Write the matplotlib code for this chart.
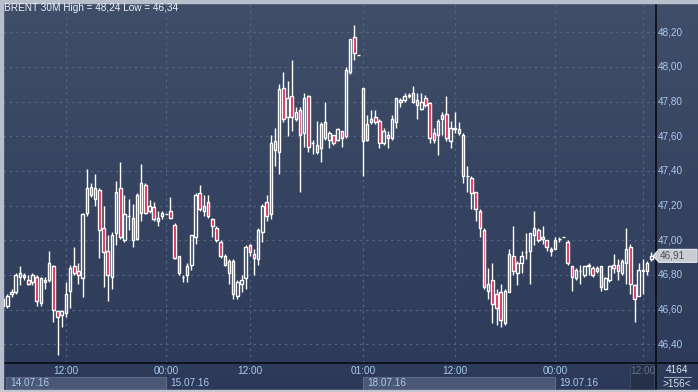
import matplotlib
matplotlib.use('Agg')
import matplotlib.pyplot as plt
import numpy as np
from matplotlib.patches import Rectangle, Polygon
from matplotlib.lines import Line2D

# ---------------- data ----------------
opens = [46.62, 46.62, 46.69, 46.70, 46.79, 46.79, 46.77, 46.76, 46.79, 46.64,
         46.76, 46.77, 46.85, 46.59, 46.57, 46.58, 46.71, 46.85, 46.82, 46.78,
         47.16, 47.31, 47.24, 47.29, 47.07, 46.94, 46.79, 47.04, 47.30, 47.00,
         47.14, 47.13, 47.01, 47.16, 47.32, 47.17, 47.19, 47.11, 47.14, 47.15,
         47.17, 47.09, 46.91, 46.79, 46.80, 46.86, 47.02, 47.27, 47.17, 47.22,
         47.12, 47.07, 46.99, 46.91, 46.81, 46.88, 46.68, 46.75, 46.78, 46.97,
         46.92, 46.89, 47.05, 47.22, 47.15, 47.57, 47.51, 47.88, 47.71, 47.83,
         47.70, 47.75, 47.62, 47.83, 47.56, 47.55, 47.53, 47.68, 47.58, 47.61,
         47.58, 47.63, 47.60, 47.97, 48.17, 48.07, 47.88, 47.58, 47.68, 47.71,
         47.69, 47.56, 47.61, 47.59, 47.68, 47.81, 47.81, 47.84, 47.85, 47.81,
         47.76, 47.82, 47.79, 47.62, 47.61, 47.70, 47.73, 47.57, 47.64, 47.64,
         47.61, 47.37, 47.36, 47.28, 47.17, 47.06, 46.71, 46.77, 46.69, 46.70,
         46.52, 46.70, 46.91, 46.81, 46.87, 46.93, 46.94, 47.03, 47.06, 47.02,
         47.00, 46.95, 46.95, 47.01, 47.02, 46.99, 46.85, 46.78, 46.82, 46.80,
         46.86, 46.84, 46.82, 46.85, 46.72, 46.77, 46.86, 46.86, 46.81, 46.87,
         46.96, 46.74, 46.68, 46.82, 46.82, 46.89]
highs = [46.67, 46.69, 46.72, 46.81, 46.85, 46.81, 46.80, 46.81, 46.80, 46.79,
         46.79, 46.94, 46.86, 46.60, 46.60, 46.76, 46.86, 46.96, 46.87, 47.16,
         47.41, 47.33, 47.38, 47.30, 47.20, 47.03, 47.05, 47.34, 47.45, 47.26,
         47.24, 47.21, 47.27, 47.44, 47.33, 47.23, 47.22, 47.17, 47.17, 47.15,
         47.25, 47.10, 46.91, 46.80, 46.87, 47.03, 47.27, 47.32, 47.26, 47.26,
         47.13, 47.08, 47.00, 46.92, 46.89, 46.89, 46.77, 46.80, 46.97, 46.98,
         46.95, 47.07, 47.21, 47.26, 47.61, 47.65, 47.90, 47.97, 47.92, 48.04,
         47.77, 47.77, 47.85, 47.84, 47.58, 47.69, 47.68, 47.80, 47.63, 47.61,
         47.65, 47.63, 48.00, 48.16, 48.24, 48.07, 47.88, 47.72, 47.75, 47.75,
         47.70, 47.65, 47.63, 47.72, 47.82, 47.82, 47.85, 47.85, 47.89, 47.85,
         47.85, 47.84, 47.80, 47.65, 47.70, 47.74, 47.83, 47.69, 47.74, 47.68,
         47.62, 47.43, 47.37, 47.28, 47.18, 47.07, 46.84, 46.87, 46.72, 46.75,
         46.72, 46.95, 47.08, 46.88, 46.94, 47.04, 47.04, 47.17, 47.07, 47.08,
         47.00, 46.96, 47.02, 47.02, 47.02, 47.00, 46.85, 46.84, 46.86, 46.85,
         46.87, 46.85, 46.85, 46.85, 46.79, 46.85, 46.92, 46.89, 46.89, 47.07,
         46.98, 46.75, 46.87, 46.89, 46.88, 46.93]
lows = [46.61, 46.61, 46.67, 46.69, 46.74, 46.77, 46.74, 46.74, 46.62, 46.62,
        46.72, 46.76, 46.53, 46.34, 46.50, 46.56, 46.61, 46.80, 46.75, 46.67,
        47.14, 47.25, 47.20, 46.90, 46.73, 46.65, 46.72, 46.97, 47.01, 46.99,
        47.06, 46.96, 47.00, 47.11, 47.15, 47.16, 47.11, 47.08, 47.12, 47.15,
        47.12, 46.89, 46.80, 46.76, 46.76, 46.83, 46.98, 47.17, 47.14, 47.13,
        47.02, 46.99, 46.90, 46.85, 46.75, 46.66, 46.66, 46.70, 46.72, 46.91,
        46.80, 46.86, 46.99, 47.11, 47.12, 47.43, 47.38, 47.68, 47.60, 47.63,
        47.69, 47.28, 47.54, 47.51, 47.50, 47.50, 47.45, 47.58, 47.53, 47.55,
        47.57, 47.54, 47.59, 47.96, 48.04, 48.07, 47.37, 47.57, 47.67, 47.67,
        47.53, 47.55, 47.53, 47.58, 47.65, 47.77, 47.80, 47.82, 47.79, 47.70,
        47.75, 47.77, 47.56, 47.56, 47.49, 47.61, 47.57, 47.53, 47.62, 47.61,
        47.33, 47.28, 47.18, 47.11, 47.02, 46.72, 46.66, 46.52, 46.51, 46.50,
        46.51, 46.70, 46.80, 46.74, 46.81, 46.89, 46.75, 46.97, 46.99, 46.98,
        46.94, 46.91, 46.95, 46.99, 47.02, 46.86, 46.71, 46.77, 46.75, 46.79,
        46.80, 46.79, 46.81, 46.71, 46.72, 46.76, 46.81, 46.77, 46.80, 46.75,
        46.69, 46.53, 46.68, 46.69, 46.80, 46.88]
closes = [46.66, 46.68, 46.70, 46.80, 46.81, 46.80, 46.75, 46.80, 46.65, 46.78,
          46.77, 46.87, 46.60, 46.56, 46.59, 46.69, 46.84, 46.81, 46.80, 47.15,
          47.30, 47.26, 47.30, 47.06, 46.93, 46.80, 47.03, 47.28, 47.02, 47.15,
          47.14, 47.00, 47.26, 47.33, 47.16, 47.20, 47.12, 47.13, 47.16, 47.15,
          47.13, 46.90, 46.81, 46.79, 46.85, 47.03, 47.26, 47.18, 47.20, 47.14,
          47.08, 47.00, 46.91, 46.86, 46.88, 46.69, 46.76, 46.77, 46.96, 46.93,
          46.90, 47.06, 47.20, 47.14, 47.56, 47.52, 47.87, 47.70, 47.82, 47.71,
          47.74, 47.61, 47.82, 47.54, 47.56, 47.51, 47.67, 47.59, 47.62, 47.56,
          47.64, 47.59, 47.98, 48.16, 48.08, 48.07, 47.57, 47.67, 47.70, 47.68,
          47.56, 47.63, 47.59, 47.70, 47.82, 47.80, 47.83, 47.83, 47.80, 47.78,
          47.80, 47.78, 47.59, 47.58, 47.69, 47.72, 47.59, 47.65, 47.65, 47.62,
          47.37, 47.37, 47.27, 47.18, 47.07, 46.73, 46.75, 46.63, 46.61, 46.54,
          46.71, 46.92, 46.82, 46.87, 46.91, 46.93, 47.04, 47.07, 47.00, 47.01,
          46.96, 46.94, 47.00, 47.01, 47.02, 46.87, 46.79, 46.83, 46.82, 46.85,
          46.85, 46.80, 46.84, 46.73, 46.78, 46.85, 46.84, 46.82, 46.88, 46.95,
          46.75, 46.66, 46.83, 46.83, 46.87, 46.91]

time_tick_bars = [15, 39, 59, 86, 108, 132, 153]
time_tick_labels = ['12:00', '00:00', '12:00', '01:00', '12:00', '00:00', '12:00']
date_labels = ['14.07.16', '15.07.16', '18.07.16', '19.07.16']
date_start_bars = [0, 39, 86, 132]
price_ticks = [46.40, 46.60, 46.80, 47.00, 47.20, 47.40, 47.60, 47.80, 48.00, 48.20]
title_text = 'BRENT 30M High = 48,24 Low = 46,34'
total_bars = '4164'
visible_bars = '>156<'

# ---------------- styling ----------------
W, H = 698, 392
FONT = 'Liberation Sans'
plt.rcParams['font.family'] = [FONT, 'DejaVu Sans']
FS = 7.2
LABEL_C = '#a9c8ee'
GRID_C = '#55627f'
RED = '#e3123f'
TOP_C = np.array([64, 78, 105]) / 255
BOT_C = np.array([44, 57, 88]) / 255

fig = plt.figure(figsize=(W / 100, H / 100), dpi=100)

def fx(px):
    return px / W

def fy(py):
    return 1 - py / H

# background gradient
bg = fig.add_axes([0, 0, 1, 1], zorder=0)
grad = np.linspace(0, 1, 256)[:, None]
img = TOP_C[None, None, :] * (1 - grad[:, :, None]) + BOT_C[None, None, :] * grad[:, :, None]
bg.imshow(img, aspect='auto', extent=[0, 1, 0, 1], origin='upper')
bg.set_xlim(0, 1)
bg.set_ylim(0, 1)
bg.axis('off')

# main plot axes (pixel box x 3..655, y 3..363)
px_left, px_right, px_top, px_bot = 3, 655, 3, 363
ax = fig.add_axes([fx(px_left), fy(px_bot), fx(px_right - px_left), (px_bot - px_top) / H], zorder=2)
ax.patch.set_alpha(0)
for s in ax.spines.values():
    s.set_visible(False)

n = len(opens)
xs = np.arange(n)
o = np.array(opens); h = np.array(highs); l = np.array(lows); c = np.array(closes)
top = np.maximum(o, c); bot = np.minimum(o, c)
bear = c < o

step = 4.181
x0 = 3.2
ax.set_xlim((px_left - x0) / step, (px_right - x0) / step)
ppu = 173.3
p_at_top = 48.20 + (32.3 - px_top) / ppu
p_at_bot = 48.20 - (px_bot - 32.3) / ppu
ax.set_ylim(p_at_bot, p_at_top)
ax.set_xticks([]); ax.set_yticks([])

# grid
for p in price_ticks:
    ax.axhline(p, color=GRID_C, lw=0.9, ls=(0, (2, 3)), zorder=1)
for b in time_tick_bars:
    ax.axvline(b, color=GRID_C, lw=0.9, ls=(0, (2, 3)), zorder=1)

# candles
ax.vlines(xs, top, h, color='white', lw=1.0, zorder=3)
ax.vlines(xs, l, bot, color='white', lw=1.0, zorder=3)
face = [RED if b else 'none' for b in bear]
ax.bar(xs, top - bot, bottom=bot, width=0.6, color=face, edgecolor='white', linewidth=1.0, zorder=4)

# frame lines
fig.add_artist(Line2D([fx(655.5), fx(655.5)], [fy(3), fy(390)], color='#0a0f1a', lw=1.3, zorder=5))
fig.add_artist(Line2D([fx(3), fx(698)], [fy(363.3), fy(363.3)], color='#0a0f1a', lw=1.3, zorder=5))
# outer light border
fig.add_artist(Rectangle((0, fy(392)), fx(2.5), 1, transform=fig.transFigure, color='#b8bfcc', zorder=6))
fig.add_artist(Rectangle((0, fy(2.5)), 1, 2.5 / H, transform=fig.transFigure, color='#b8bfcc', zorder=6))
fig.add_artist(Rectangle((0, 0), 1, 2.5 / H, transform=fig.transFigure, color='#c4c8d0', zorder=6))

# title
fig.text(fx(4), fy(8), title_text, color='#eef2f8', fontsize=FS, va='center', ha='left', zorder=7)

# price labels
for p in price_ticks:
    ypx = 32.3 + (48.20 - p) * ppu
    fig.text(fx(658), fy(ypx), f'{p:.2f}'.replace('.', ','), color=LABEL_C, fontsize=FS,
             va='center', ha='left', zorder=7)

# last price tag
last = closes[-1]
ly = 32.3 + (48.20 - last) * ppu
tag = Polygon([(fx(653), fy(ly)), (fx(659), fy(ly - 6.5)), (fx(697), fy(ly - 6.5)),
               (fx(697), fy(ly + 6.5)), (fx(659), fy(ly + 6.5))], closed=True,
              transform=fig.transFigure, facecolor='#c9ccd2', edgecolor='#e6e8ec', lw=0.8, zorder=7)
fig.add_artist(tag)
fig.text(fx(660), fy(ly), f'{last:.2f}'.replace('.', ','), color='#4a4f5a', fontsize=FS,
         va='center', ha='left', zorder=8)

# bottom time labels
def bar_px(b):
    return x0 + step * b

for b, lab in zip(time_tick_bars[:-1], time_tick_labels[:-1]):
    fig.text(fx(bar_px(b)), fy(371), lab, color=LABEL_C, fontsize=FS, ha='center', va='center', zorder=7)

# current-position box with grey label
fig.add_artist(Rectangle((fx(630), fy(389)), fx(24), 25 / H, transform=fig.transFigure,
                         facecolor='#263149', edgecolor='#3b4762', lw=0.8, zorder=6))
fig.text(fx(bar_px(time_tick_bars[-1])), fy(371), time_tick_labels[-1], color='#66718a', fontsize=FS,
         ha='center', va='center', zorder=7)

# date boxes
ends = [bar_px(b) for b in date_start_bars[1:]] + [630]
starts = [6] + [bar_px(b) for b in date_start_bars[1:]]
for k, (lab, s, e) in enumerate(zip(date_labels, starts, ends)):
    if k % 2 == 0:
        fig.add_artist(Rectangle((fx(s), fy(389)), fx(e - s), 12.5 / H, transform=fig.transFigure,
                                 facecolor='#4b5875', edgecolor='#5e6b88', lw=0.8, zorder=6))
    fig.text(fx(s + 4), fy(383), lab, color=LABEL_C, fontsize=FS, ha='left', va='center', zorder=7)

# bar counters
fig.text(fx(677), fy(370), total_bars, color='#d8e2f0', fontsize=FS, ha='center', va='center', zorder=7)
fig.add_artist(Line2D([fx(664), fx(691)], [fy(377), fy(377)], color='#9aa6bc', lw=0.8, zorder=7))
fig.text(fx(677), fy(384), visible_bars, color='#d8e2f0', fontsize=FS, ha='center', va='center', zorder=7)

fig.savefig('out.png', dpi=100)
